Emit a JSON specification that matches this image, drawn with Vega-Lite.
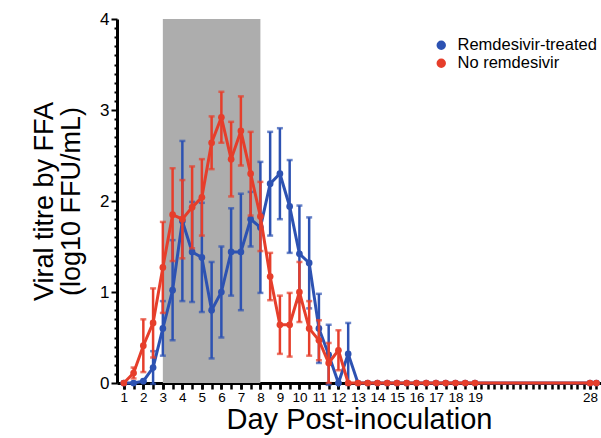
{
  "$schema": "https://vega.github.io/schema/vega-lite/v6.json",
  "width": 484,
  "height": 364,
  "autosize": {"type": "none"},
  "padding": {"left": 117, "top": 19, "right": 0, "bottom": 55},
  "config": {"view": {"stroke": null}, "font": "Liberation Sans", "axis": {"grid": false},
    "legend": {"orient": "none", "legendX": 316, "legendY": 18, "title": null, "symbolType": "circle", "symbolSize": 55, "symbolOpacity": 1, "labelFontSize": 16.5, "labelColor": "black", "padding": 0, "rowPadding": 1, "labelOffset": 8, "symbolStrokeWidth": 2}},
  "datasets": {
    "band": [{"day": 3, "dayEnd": 8, "mean": 0, "top": 4}],
    "titre": [
      {"group": "Remdesivir-treated", "day": 1, "mean": 0, "sem": 0},
      {"group": "Remdesivir-treated", "day": 1.5, "mean": 0, "sem": 0},
      {"group": "Remdesivir-treated", "day": 2, "mean": 0.02, "sem": 0},
      {"group": "Remdesivir-treated", "day": 2.5, "mean": 0.17, "sem": 0.18},
      {"group": "Remdesivir-treated", "day": 3, "mean": 0.6, "sem": 0.3},
      {"group": "Remdesivir-treated", "day": 3.5, "mean": 1.02, "sem": 0.55},
      {"group": "Remdesivir-treated", "day": 4, "mean": 1.78, "sem": 0.88},
      {"group": "Remdesivir-treated", "day": 4.5, "mean": 1.44, "sem": 0.55},
      {"group": "Remdesivir-treated", "day": 5, "mean": 1.38, "sem": 0.6},
      {"group": "Remdesivir-treated", "day": 5.5, "mean": 0.8, "sem": 0.53},
      {"group": "Remdesivir-treated", "day": 6, "mean": 1.0, "sem": 0.5},
      {"group": "Remdesivir-treated", "day": 6.5, "mean": 1.44, "sem": 0.48},
      {"group": "Remdesivir-treated", "day": 7, "mean": 1.44, "sem": 0.64},
      {"group": "Remdesivir-treated", "day": 7.5, "mean": 1.8, "sem": 0.3},
      {"group": "Remdesivir-treated", "day": 8, "mean": 1.71, "sem": 0.72},
      {"group": "Remdesivir-treated", "day": 8.5, "mean": 2.19, "sem": 0.57},
      {"group": "Remdesivir-treated", "day": 9, "mean": 2.3, "sem": 0.5},
      {"group": "Remdesivir-treated", "day": 9.5, "mean": 1.94, "sem": 0.51},
      {"group": "Remdesivir-treated", "day": 10, "mean": 1.42, "sem": 0.53},
      {"group": "Remdesivir-treated", "day": 10.5, "mean": 1.32, "sem": 0.5},
      {"group": "Remdesivir-treated", "day": 11, "mean": 0.6, "sem": 0.38},
      {"group": "Remdesivir-treated", "day": 11.5, "mean": 0.31, "sem": 0.33},
      {"group": "Remdesivir-treated", "day": 12, "mean": 0, "sem": 0},
      {"group": "Remdesivir-treated", "day": 12.5, "mean": 0.32, "sem": 0.34},
      {"group": "Remdesivir-treated", "day": 13, "mean": 0, "sem": 0},
      {"group": "Remdesivir-treated", "day": 13.5, "mean": 0, "sem": 0},
      {"group": "Remdesivir-treated", "day": 14, "mean": 0, "sem": 0},
      {"group": "Remdesivir-treated", "day": 14.5, "mean": 0, "sem": 0},
      {"group": "Remdesivir-treated", "day": 15, "mean": 0, "sem": 0},
      {"group": "Remdesivir-treated", "day": 15.5, "mean": 0, "sem": 0},
      {"group": "Remdesivir-treated", "day": 16, "mean": 0, "sem": 0},
      {"group": "Remdesivir-treated", "day": 16.5, "mean": 0, "sem": 0},
      {"group": "Remdesivir-treated", "day": 17, "mean": 0, "sem": 0},
      {"group": "Remdesivir-treated", "day": 17.5, "mean": 0, "sem": 0},
      {"group": "Remdesivir-treated", "day": 18, "mean": 0, "sem": 0},
      {"group": "Remdesivir-treated", "day": 18.5, "mean": 0, "sem": 0},
      {"group": "Remdesivir-treated", "day": 19, "mean": 0, "sem": 0},
      {"group": "Remdesivir-treated", "day": 28, "mean": 0, "sem": 0},
      {"group": "Remdesivir-treated", "day": 28.5, "mean": 0, "sem": 0},
      {"group": "No remdesivir", "day": 1, "mean": 0, "sem": 0},
      {"group": "No remdesivir", "day": 1.5, "mean": 0.11, "sem": 0.06},
      {"group": "No remdesivir", "day": 2, "mean": 0.41, "sem": 0.29},
      {"group": "No remdesivir", "day": 2.5, "mean": 0.66, "sem": 0.38},
      {"group": "No remdesivir", "day": 3, "mean": 1.27, "sem": 0.5},
      {"group": "No remdesivir", "day": 3.5, "mean": 1.85, "sem": 0.51},
      {"group": "No remdesivir", "day": 4, "mean": 1.8, "sem": 0.43},
      {"group": "No remdesivir", "day": 4.5, "mean": 1.93, "sem": 0.45},
      {"group": "No remdesivir", "day": 5, "mean": 2.04, "sem": 0.42},
      {"group": "No remdesivir", "day": 5.5, "mean": 2.64, "sem": 0.29},
      {"group": "No remdesivir", "day": 6, "mean": 2.92, "sem": 0.28},
      {"group": "No remdesivir", "day": 6.5, "mean": 2.46, "sem": 0.41},
      {"group": "No remdesivir", "day": 7, "mean": 2.77, "sem": 0.38},
      {"group": "No remdesivir", "day": 7.5, "mean": 2.3, "sem": 0.46},
      {"group": "No remdesivir", "day": 8, "mean": 1.83, "sem": 0.38},
      {"group": "No remdesivir", "day": 8.5, "mean": 1.17, "sem": 0.26},
      {"group": "No remdesivir", "day": 9, "mean": 0.64, "sem": 0.32},
      {"group": "No remdesivir", "day": 9.5, "mean": 0.64, "sem": 0.35},
      {"group": "No remdesivir", "day": 10, "mean": 1.0, "sem": 0.33},
      {"group": "No remdesivir", "day": 10.5, "mean": 0.6, "sem": 0.3},
      {"group": "No remdesivir", "day": 11, "mean": 0.47, "sem": 0.22},
      {"group": "No remdesivir", "day": 11.5, "mean": 0.22, "sem": 0.22},
      {"group": "No remdesivir", "day": 12, "mean": 0.36, "sem": 0.22},
      {"group": "No remdesivir", "day": 12.5, "mean": 0, "sem": 0},
      {"group": "No remdesivir", "day": 13, "mean": 0, "sem": 0},
      {"group": "No remdesivir", "day": 13.5, "mean": 0, "sem": 0},
      {"group": "No remdesivir", "day": 14, "mean": 0, "sem": 0},
      {"group": "No remdesivir", "day": 14.5, "mean": 0, "sem": 0},
      {"group": "No remdesivir", "day": 15, "mean": 0, "sem": 0},
      {"group": "No remdesivir", "day": 15.5, "mean": 0, "sem": 0},
      {"group": "No remdesivir", "day": 16, "mean": 0, "sem": 0},
      {"group": "No remdesivir", "day": 16.5, "mean": 0, "sem": 0},
      {"group": "No remdesivir", "day": 17, "mean": 0, "sem": 0},
      {"group": "No remdesivir", "day": 17.5, "mean": 0, "sem": 0},
      {"group": "No remdesivir", "day": 18, "mean": 0, "sem": 0},
      {"group": "No remdesivir", "day": 18.5, "mean": 0, "sem": 0},
      {"group": "No remdesivir", "day": 19, "mean": 0, "sem": 0},
      {"group": "No remdesivir", "day": 28, "mean": 0, "sem": 0},
      {"group": "No remdesivir", "day": 28.5, "mean": 0, "sem": 0}
    ]
  },
  "resolve": {"axis": {"x": "independent", "y": "independent"}},
  "layer": [
    {
      "data": {"name": "band"},
      "mark": {"type": "rect", "color": "#adadad"},
      "encoding": {
        "x": {"field": "day", "type": "quantitative",
          "scale": {"domain": [0.65, 19, 28.86], "range": [0, 358, 484], "nice": false, "zero": false},
          "axis": {"orient": "bottom", "title": null, "labels": false, "domain": false,
            "values": [1,1.5,2,2.5,3,3.5,4,4.5,5,5.5,6,6.5,7,7.5,8,8.5,9,9.5,10,10.5,11,11.5,12,12.5,13,13.5,14,14.5,15,15.5,16,16.5,17,17.5,18,18.5,19,19.5,20,20.5,21,21.5,22,22.5,23,23.5,24,24.5,25,25.5,26,26.5,27,27.5,28,28.5],
            "ticks": true, "tickSize": 6, "tickWidth": 2.5, "tickColor": "black"}},
        "x2": {"field": "dayEnd"},
        "y": {"field": "mean", "type": "quantitative",
          "scale": {"domain": [0, 4], "nice": false},
          "axis": null},
        "y2": {"field": "top"}
      }
    },
    {
      "data": {"name": "titre"},
      "encoding": {
        "x": {"field": "day", "type": "quantitative",
          "axis": {"orient": "bottom", "title": "Day Post-inoculation", "titleFontSize": 29, "titleFontWeight": "normal", "titleColor": "black", "titlePadding": 2,
            "values": [1,2,3,4,5,6,7,8,9,10,11,12,13,14,15,16,17,18,19,28],
            "labelFontSize": 13.5, "labelColor": "black", "labelPadding": 1, "labelOverlap": false, "labelFlush": false, "labelBound": false,
            "ticks": true, "tickSize": 6, "tickWidth": 2.5, "tickColor": "black", "domainColor": "black", "domainWidth": 3}},
        "y": {"field": "mean", "type": "quantitative",
          "axis": {"orient": "left", "title": ["Viral titre by FFA", "(log10 FFU/mL)"], "titleFontSize": 27, "titleFontWeight": "normal", "titleColor": "black", "titlePadding": 14, "titleLineHeight": 27,
            "values": [0,0.1,0.2,0.3,0.4,0.5,0.6,0.7,0.8,0.9,1,1.1,1.2,1.3,1.4,1.5,1.6,1.7,1.8,1.9,2,2.1,2.2,2.3,2.4,2.5,2.6,2.7,2.8,2.9,3,3.1,3.2,3.3,3.4,3.5,3.6,3.7,3.8,3.9,4],
            "labelExpr": "datum.value % 1 == 0 ? ('' + datum.value) : ''",
            "labelFontSize": 17, "labelColor": "black", "labelPadding": 2, "labelOverlap": false, "labelFlush": false, "labelBound": false,
            "ticks": true, "tickSize": {"condition": {"test": "datum.value % 1 == 0", "value": 6}, "value": 3},
            "tickWidth": 2, "tickColor": "black", "domainColor": "black", "domainWidth": 3}},
        "color": {"field": "group", "type": "nominal", "scale": {"domain": ["Remdesivir-treated", "No remdesivir"], "range": ["#2d52b2", "#e63e2b"]}}
      },
      "layer": [
        {
          "transform": [{"filter": "datum.group == 'Remdesivir-treated'"}],
          "mark": {"type": "line", "strokeWidth": 3}
        },
        {
          "transform": [{"filter": "datum.group == 'Remdesivir-treated'"}],
          "mark": {"type": "errorbar", "thickness": 2.5, "ticks": {"size": 6}},
          "encoding": {"yError": {"field": "sem"}}
        },
        {
          "transform": [{"filter": "datum.group == 'Remdesivir-treated'"}],
          "mark": {"type": "point", "filled": true, "size": 45, "opacity": 1}
        },
        {
          "transform": [{"filter": "datum.group == 'No remdesivir'"}],
          "mark": {"type": "line", "strokeWidth": 3}
        },
        {
          "transform": [{"filter": "datum.group == 'No remdesivir'"}],
          "mark": {"type": "errorbar", "thickness": 2.5, "ticks": {"size": 6}},
          "encoding": {"yError": {"field": "sem"}}
        },
        {
          "transform": [{"filter": "datum.group == 'No remdesivir'"}],
          "mark": {"type": "point", "filled": true, "size": 45, "opacity": 1}
        }
      ]
    }
  ]
}
